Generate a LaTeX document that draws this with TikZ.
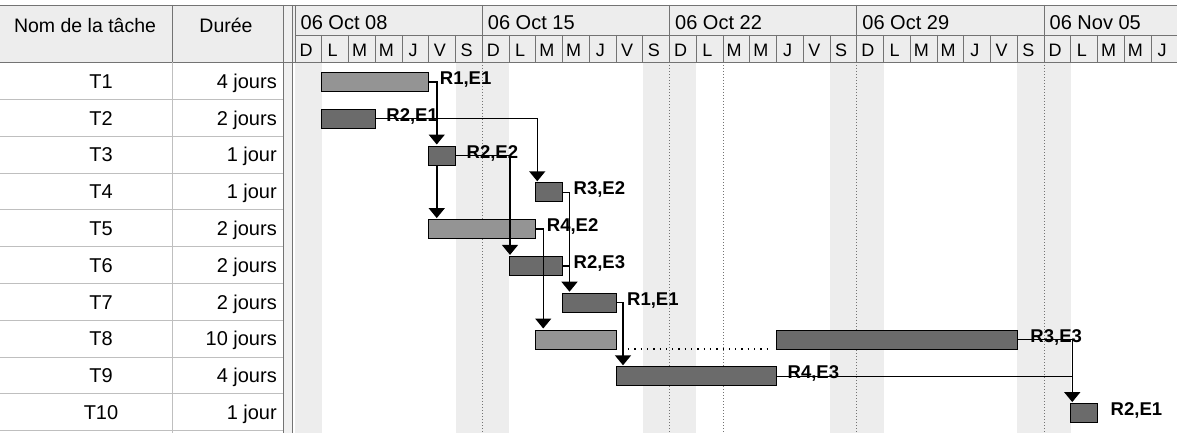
\documentclass[tikz,border=0pt]{standalone}
\usepackage{fontspec}
\setmainfont{Liberation Sans}
\usetikzlibrary{arrows.meta,calc}
\begin{document}
\begin{tikzpicture}[x=1pt,y=-1pt,
  hdr/.style={font=\fontsize{19.5}{23}\selectfont, inner sep=0pt, anchor=base},
  wk/.style={font=\fontsize{20}{24}\selectfont, inner sep=0pt, anchor=base west},
  dayl/.style={font=\fontsize{18}{21}\selectfont, inner sep=0pt, anchor=base},
  cell/.style={font=\fontsize{20}{24}\selectfont, inner sep=0pt},
  taskbar/.style={draw=black, line width=1pt, inner sep=0pt, outer sep=0pt, minimum height=19pt, anchor=west},
  barlight/.style={taskbar, fill=black!42},
  bardark/.style={taskbar, fill=black!58},
  lbl/.style={font=\bfseries\fontsize{18.5}{22}\selectfont, inner sep=0pt, anchor=base west},
  conn/.style={line width=1.5pt},
  arr/.style={line width=1.5pt, -{Triangle[width=16pt,length=10pt]}, shorten >=1.5pt},
  gridline/.style={draw=black!25, line width=0.6pt},
  hline/.style={draw=black!55, line width=0.8pt},
  weekend/.style={fill=black!7},
  wkdots/.style={draw=black!55, line width=0.8pt, dash pattern=on 1pt off 2pt}
]
\useasboundingbox (0,0) rectangle (1177,433);
\fill[white] (0,0) rectangle (1177,433);

% header background
\fill[black!7] (0,5) rectangle (1177,62);

% weekend shading in chart body
\foreach \d in {0,6,7,13,14,20,21,27,28}
  \fill[weekend] (295+26.75*\d,62) rectangle ++(26.75,371);

% week boundaries and today line
\foreach \w in {1,2,3,4}
  \draw[wkdots] (295+187.25*\w,62) -- (295+187.25*\w,433);
\draw[wkdots] (723,62) -- (723,433);

% splitter between table and chart
\fill[black!6] (283,5) rectangle (292,433);
\draw[hline] (283,5) -- (283,433);
\draw[hline] (292,5) -- (292,433);

% header lines
\draw[hline] (0,5) -- (1177,5);
\draw[hline] (0,62) -- (1177,62);
\draw[hline] (295,35) -- (1177,35);
\draw[hline] (172,5) -- (172,62);
\foreach \d in {0,...,32}
  \draw[hline] (295+26.75*\d,35) -- (295+26.75*\d,62);
\foreach \w in {0,...,4}
  \draw[hline] (295+187.25*\w,5) -- (295+187.25*\w,35);

% header texts
\node[hdr] (hname) at (85,33) {Nom de la tâche};
\node[hdr] (hdur) at (226,33) {Durée};
\foreach \w/\t in {0/06 Oct 08,1/06 Oct 15,2/06 Oct 22,3/06 Oct 29,4/06 Nov 05}
  \node[wk] (w\w) at (295+187.25*\w+5.5,30) {\t};
\foreach \d in {0,...,32}{
  \pgfmathtruncatemacro\m{mod(\d,7)}
  \node[dayl] (d\d) at (295+26.75*\d+11,56.5) {\ifcase\m D\or L\or M\or M\or J\or V\or S\fi};
}

% table grid
\foreach \k in {1,...,10}
  \draw[gridline] (0,62.5+36.8*\k) -- (283,62.5+36.8*\k);
\draw[gridline] (172,62) -- (172,433);

% table rows
\foreach \k/\n/\dur in {1/T1/4 jours,2/T2/2 jours,3/T3/1 jour,4/T4/1 jour,5/T5/2 jours,6/T6/2 jours,7/T7/2 jours,8/T8/10 jours,9/T9/4 jours,10/T10/1 jour}{
  \node[cell, anchor=base] (n\k) at (101,62.5+36.8*\k-18.4+7.3) {\n};
  \node[cell, anchor=base east] (u\k) at (277,62.5+36.8*\k-18.4+7.3) {\dur};
}

% task bars
\node[barlight, minimum width=107pt]   (t1)  at (321.75,81.9) {};
\node[bardark,  minimum width=53.5pt]  (t2)  at (321.75,118.7) {};
\node[bardark,  minimum width=26.75pt] (t3)  at (428.75,155.5) {};
\node[bardark,  minimum width=26.75pt] (t4)  at (535.75,192.3) {};
\node[barlight, minimum width=107pt]   (t5)  at (428.75,229.1) {};
\node[bardark,  minimum width=53.5pt]  (t6)  at (509,265.9) {};
\node[bardark,  minimum width=53.5pt]  (t7)  at (562.5,302.7) {};
\node[barlight, minimum width=80.25pt] (t8a) at (535.75,339.5) {};
\node[bardark,  minimum width=240.75pt] (t8b) at (776.5,339.5) {};
\node[bardark,  minimum width=160.5pt] (t9)  at (616,376.3) {};
\node[bardark,  minimum width=26.75pt] (t10) at (1070.75,413.1) {};

% split dotted line of T8
\draw[black, line width=1.3pt, dash pattern=on 1.3pt off 5pt]
  ($(t8a.south east)+(12,0)$) -- ($(t8b.south west)+(-6,0)$);

% connectors
\coordinate (c1) at ($(t1.east)+(8,0)$);
\draw[arr] (t1.east) -- (c1) -- (c1 |- t3.north);
\draw[arr] (t3.south -| c1) -- (t5.north -| c1);
\coordinate (c2) at ($(t4.west |- t2.east)+(1.5,0)$);
\draw[arr] (t2.east) -- (c2) -- (c2 |- t4.north);
\coordinate (c3) at ($(t6.west |- t3.east)+(1,0)$);
\draw[arr] (t3.east) -- (c3) -- (c3 |- t6.north);
\coordinate (c4) at ($(t4.east)+(7,0)$);
\draw[arr] (t4.east) -- (c4) -- (c4 |- t7.north);
\draw[conn] (t6.east) -- (t6.east -| c4);
\coordinate (c5) at ($(t5.east)+(7.5,0)$);
\draw[arr] (t5.east) -- (c5) -- (c5 |- t8a.north);
\coordinate (c7) at ($(t7.east)+(7,0)$);
\draw[arr] (t7.east) -- (c7) -- (c7 |- t9.north);
\coordinate (c8) at ($(t10.west |- t8b.east)+(1.5,0)$);
\draw[arr] (t8b.east) -- (c8) -- (c8 |- t10.north);
\draw[conn] (t9.east) -- (t9.east -| c8);

% labels
\node[lbl] (l1)  at ($(t1.east)+(11,2.5)$)  {R1,E1};
\node[lbl] (l2)  at ($(t2.east)+(11,2.5)$)  {R2,E1};
\node[lbl] (l3)  at ($(t3.east)+(11,2.5)$)  {R2,E2};
\node[lbl] (l4)  at ($(t4.east)+(11,2.5)$)  {R3,E2};
\node[lbl] (l5)  at ($(t5.east)+(11,2.5)$)  {R4,E2};
\node[lbl] (l6)  at ($(t6.east)+(11,2.5)$)  {R2,E3};
\node[lbl] (l7)  at ($(t7.east)+(11,2.5)$)  {R1,E1};
\node[lbl] (l8)  at ($(t8b.east)+(13,2.5)$) {R3,E3};
\node[lbl] (l9)  at ($(t9.east)+(11,2.5)$)  {R4,E3};
\node[lbl] (l10) at ($(t10.east)+(13,2.5)$) {R2,E1};
\end{tikzpicture}
\end{document}
